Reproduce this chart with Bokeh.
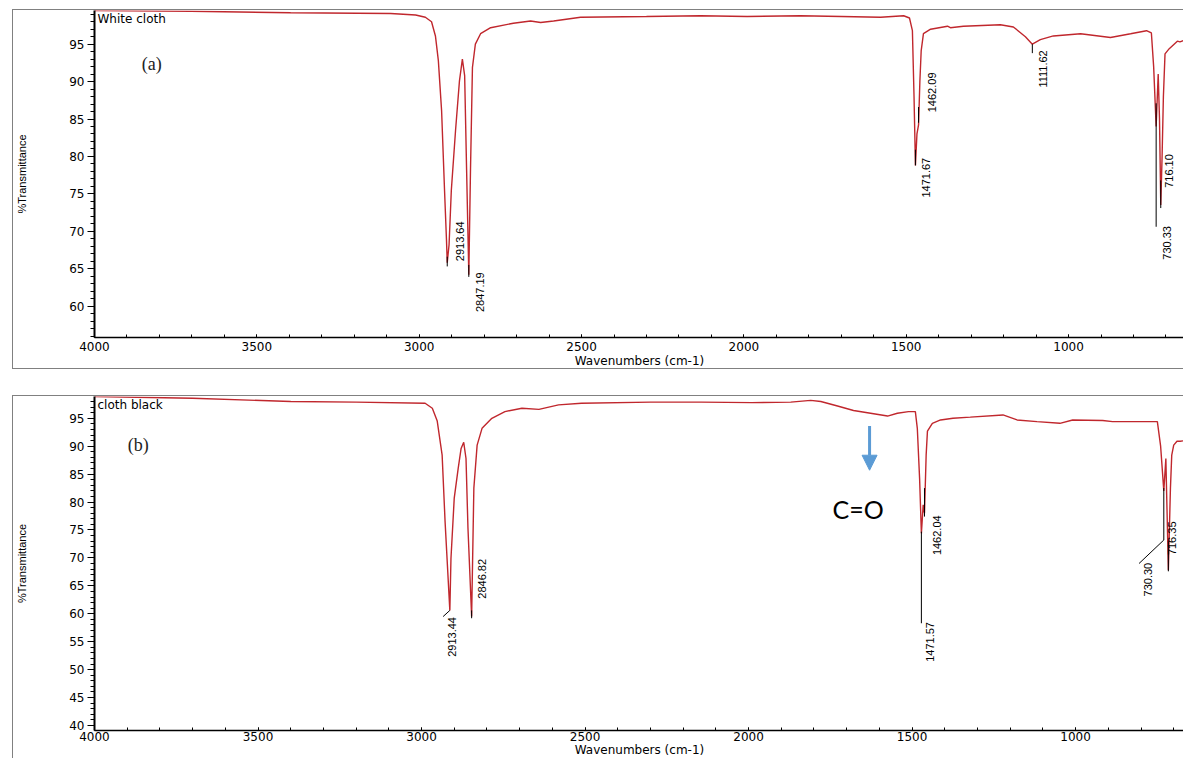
import math
from bokeh.plotting import figure
from bokeh.layouts import column
from bokeh.models import Range1d, FixedTicker, Arrow, NormalHead, ColumnDataSource
from bokeh.core.properties import value
from bokeh.embed import file_html
from bokeh.resources import INLINE

# ---------------- data: panel (a) White cloth ----------------
wn_a = [4000, 3704, 3396, 3088, 3011, 2981, 2962, 2950, 2941, 2931, 2922, 2916, 2913.64, 2908,
        2901, 2888, 2876, 2867, 2860, 2854, 2847.19, 2842, 2836, 2827, 2811, 2780, 2710, 2657,
        2626, 2586, 2503, 2300, 2134, 1990, 1826, 1700, 1579, 1508, 1490, 1481, 1476, 1471.67,
        1467, 1462.09, 1458, 1454, 1447, 1425, 1373, 1364, 1324, 1210, 1170, 1133, 1111.62, 1087,
        1047, 963, 871, 809, 760, 745, 738, 730.33, 724, 720, 716.10, 712, 708, 703, 690, 675,
        665, 657, 645]
T_a = [99.5, 99.4, 99.2, 99.1, 98.9, 98.6, 98.0, 96.1, 92.8, 86.1, 75.5, 68.9, 65.8, 68.2,
       75.5, 83.5, 90.1, 93.0, 90.8, 78.2, 64.2, 78.2, 91.9, 95.0, 96.4, 97.2, 97.8, 98.1,
       97.9, 98.1, 98.6, 98.7, 98.8, 98.7, 98.8, 98.7, 98.6, 98.8, 98.5, 96.8, 88.0, 78.8,
       83.0, 84.2, 90.0, 94.1, 96.4, 97.0, 97.4, 97.2, 97.4, 97.6, 97.3, 96.0, 95.0, 95.6,
       96.1, 96.4, 95.9, 96.4, 96.8, 96.5, 92.0, 84.0, 91.0, 85.0, 73.5, 80.0, 88.0, 93.7, 94.4, 95.0,
       95.4, 95.3, 95.5]

labels_a = ["2913.64", "2847.19", "1471.67", "1462.09", "1111.62", "730.33", "716.10"]
label_wn_a = [2913.64, 2847.19, 1471.67, 1462.09, 1111.62, 730.33, 716.10]
label_T_a = [66.0, 59.2, 74.5, 85.9, 89.2, 66.2, 75.8]
label_dx_a = [12.5, 11, 11, 13, 10.5, 10.7, 8.7]
mark_top_a = [66.6, 65.5, 80.9, 86.6, 95.0, 87.1, 76.8]
mark_bot_a = [65.3, 63.9, 78.8, 84.5, 93.8, 70.6, 73.1]

# ---------------- data: panel (b) cloth black ----------------
wn_b = [4000, 3700, 3400, 3200, 2989, 2967, 2952, 2937, 2928, 2913.44, 2910, 2900, 2888, 2879,
        2871, 2864, 2858, 2846.82, 2840, 2830, 2815, 2785, 2745, 2693, 2641, 2581, 2511, 2300,
        2145, 1990, 1871, 1810, 1779, 1728, 1679, 1627, 1575, 1545, 1511, 1490, 1484, 1477,
        1471.57, 1466, 1462.04, 1457, 1453, 1438, 1413, 1375, 1322, 1222, 1179, 1118, 1048, 1009,
        917, 887, 814, 750, 740, 730.30, 724, 716.35, 710, 706, 700, 690, 680, 665]
T_b = [98.9, 98.6, 98.0, 97.9, 97.7, 96.8, 94.5, 88.4, 76.5, 60.6, 69.9, 80.7, 86.0, 89.6,
       90.7, 87.8, 75.3, 59.5, 82.5, 90.2, 93.2, 95.0, 96.2, 96.8, 96.6, 97.4, 97.7, 97.9,
       97.9, 97.8, 97.9, 98.2, 98.0, 97.2, 96.4, 95.9, 95.4, 95.9, 96.2, 96.2, 93.2, 84.2,
       74.4, 79.5, 78.0, 88.4, 92.7, 94.1, 94.7, 95.0, 95.2, 95.6, 94.7, 94.4, 94.1, 94.7,
       94.6, 94.4, 94.4, 94.4, 90.0, 82.0, 87.8, 67.8, 82.5, 88.4, 90.2, 90.9, 90.9, 91.0]

labels_b = ["2913.44", "2846.82", "1471.57", "1462.04", "730.30", "716.35"]
label_wn_b = [2913.44, 2846.82, 1471.57, 1462.04, 730.30, 716.35]
label_T_b = [52.3, 62.7, 51.4, 70.5, 63.1, 70.5]
label_dx_b = [2, 10, 9, 12.5, -16, 4]
seg_x0_b = [2913.44, 2846.82, 1471.57, 1462.04, 730.30, 730.30, 716.35]
seg_y0_b = [60.6, 60.6, 74.7, 82.5, 82.5, 73.2, 73.0]
seg_x1_b = [2934.0, 2846.82, 1471.57, 1462.04, 730.30, 806.0, 716.35]
seg_y1_b = [59.5, 59.2, 58.3, 77.4, 73.2, 69.0, 67.6]

x_major = [4000, 3500, 3000, 2500, 2000, 1500, 1000]
x_minor = list(range(600, 4001, 100))

CURVE = "#C0272D"
FRAME = "1px solid #808080"


def make_panel(h, xend, ylo, yhi, yticks, xlab_standoff, xaxlab_standoff, wn, T, name, tag, tag_pos):
    p = figure(width=1171, height=h, x_range=Range1d(4000, xend), y_range=Range1d(ylo, yhi),
               output_backend="svg", toolbar_location=None,
               min_border_left=81, min_border_right=0, min_border_top=0, min_border_bottom=26)
    p.grid.visible = False
    p.outline_line_color = None
    p.background_fill_color = "white"
    p.border_fill_color = "white"

    xa = p.xaxis[0]
    xa.ticker = FixedTicker(ticks=x_major, minor_ticks=x_minor)
    xa.major_label_overrides = {v: str(v) for v in x_major}
    xa.axis_label = "Wavenumbers (cm-1)"
    xa.axis_label_text_font = "DejaVu Sans"
    xa.axis_label_text_font_style = "normal"
    xa.axis_label_text_font_size = "12px"
    xa.axis_label_text_color = "black"
    xa.axis_label_standoff = xaxlab_standoff
    xa.major_label_text_font = "DejaVu Sans"
    xa.major_label_text_font_size = "12px"
    xa.major_label_text_color = "black"
    xa.major_label_standoff = xlab_standoff
    xa.major_tick_in = 3
    xa.major_tick_out = 0
    xa.minor_tick_in = 3
    xa.minor_tick_out = 0
    xa.axis_line_color = "black"
    xa.axis_line_width = 1.5
    xa.major_tick_line_color = "black"
    xa.minor_tick_line_color = "black"

    ya = p.yaxis[0]
    ya.ticker = FixedTicker(ticks=yticks, minor_ticks=list(range(int(math.ceil(ylo)), int(yhi) + 1)))
    ya.axis_label = "%Transmittance"
    ya.axis_label_text_font = "Liberation Sans"
    ya.axis_label_text_font_style = "normal"
    ya.axis_label_text_font_size = "11px"
    ya.axis_label_text_color = "black"
    ya.axis_label_standoff = 38
    ya.major_label_text_font = "DejaVu Sans"
    ya.major_label_text_font_size = "12px"
    ya.major_label_text_color = "black"
    ya.major_label_standoff = 3
    ya.major_tick_in = 0
    ya.major_tick_out = 7
    ya.minor_tick_in = 0
    ya.minor_tick_out = 4
    ya.axis_line_color = "black"
    ya.axis_line_width = 2
    ya.major_tick_line_color = "black"
    ya.minor_tick_line_color = "black"

    p.line(wn, T, line_color=CURVE, line_width=1.4)

    p.text(x=[4000], y=[yhi], text=[name], x_offset=3, y_offset=1,
           text_align="left", text_baseline="top", text_color="black",
           text_font=value("DejaVu Sans"), text_font_size="12px")
    p.text(x=[tag_pos[0]], y=[tag_pos[1]], text=[tag], text_align="center",
           text_baseline="middle", text_color="#222222",
           text_font=value("Liberation Serif"), text_font_size="18px")
    return p


# ---------------- panel (a) ----------------
pa = make_panel(360, 643, 55.8, 99.5, list(range(60, 100, 5)), 4, 0, wn_a, T_a,
                "White cloth", "(a)", (3824, 92.4))
pa.segment(x0=label_wn_a, y0=mark_top_a, x1=label_wn_a, y1=mark_bot_a,
           line_color="black", line_width=1)
src_a = ColumnDataSource(dict(x=label_wn_a, y=label_T_a, t=labels_a, dx=label_dx_a))
pa.text(x="x", y="y", text="t", x_offset="dx", source=src_a, angle=math.pi / 2,
        text_align="left", text_baseline="middle", text_color="black",
        text_font=value("Liberation Sans"), text_font_size="11px")
pa.styles = {"border-top": FRAME, "border-left": FRAME, "border-bottom": FRAME}
pa.margin = (9, 0, 0, 12)

# ---------------- panel (b) ----------------
pb = make_panel(363, 667, 39.1, 98.9, list(range(40, 100, 5)), 1, -1, wn_b, T_b,
                "cloth black", "(b)", (3866, 90.3))
pb.segment(x0=seg_x0_b, y0=seg_y0_b, x1=seg_x1_b, y1=seg_y1_b,
           line_color="black", line_width=1)
src_b = ColumnDataSource(dict(x=label_wn_b, y=label_T_b, t=labels_b, dx=label_dx_b))
pb.text(x="x", y="y", text="t", x_offset="dx", source=src_b, angle=math.pi / 2,
        text_align="left", text_baseline="middle", text_color="black",
        text_font=value("Liberation Sans"), text_font_size="11px")
# C=O annotation
pb.add_layout(Arrow(x_start=1630, y_start=93.6, x_end=1630, y_end=85.7,
                    line_color="#5B9BD5", line_width=3,
                    end=NormalHead(size=15, fill_color="#5B9BD5", line_color="#5B9BD5")))
pb.text(x=[1665], y=[78.7], text=["C=O"], text_align="center", text_baseline="middle",
        text_color="black", text_font=value("Lato"), text_font_size="25px")
pb.styles = {"border-top": FRAME, "border-left": FRAME}
pb.margin = (26, 0, 0, 12)

layout = column(pa, pb)
open("out.html", "w").write(file_html(layout, INLINE))
